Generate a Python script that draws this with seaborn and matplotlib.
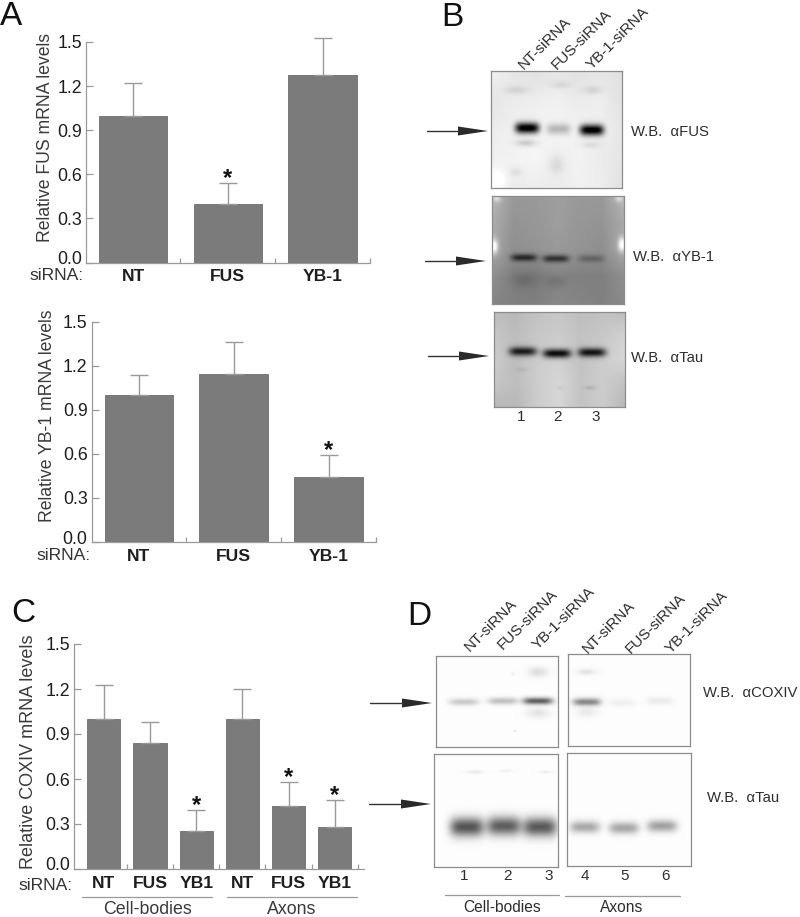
import numpy as np
import pandas as pd
import matplotlib
matplotlib.use('Agg')
import matplotlib.pyplot as plt
from matplotlib.patches import Polygon
from matplotlib.transforms import ScaledTranslation
import seaborn as sns

# bar data
sirna_fus = ['NT', 'FUS', 'YB-1']
fus_mean = [1.0, 0.40, 1.277]
fus_top = [1.224, 0.544, 1.53]
fus_star = [1]

sirna_yb1 = ['NT', 'FUS', 'YB-1']
yb1_mean = [1.0, 1.147, 0.44]
yb1_top = [1.137, 1.36, 0.595]
yb1_star = [2]

sirna_cox = ['NT', 'FUS', 'YB1', 'NT', 'FUS', 'YB1']
group_cox = ['Cell-bodies', 'Cell-bodies', 'Cell-bodies', 'Axons', 'Axons', 'Axons']
cox_mean = [1.0, 0.838, 0.253, 1.0, 0.422, 0.278]
cox_top = [1.23, 0.982, 0.396, 1.198, 0.578, 0.46]
cox_star = [2, 4, 5]

y_ticks = [0.0, 0.3, 0.6, 0.9, 1.2, 1.5]

# lanes on the blots: band darkness for lanes 1, 2, 3...
lanes_b = ['NT-siRNA', 'FUS-siRNA', 'YB-1-siRNA']
band_fus = [1.0, 0.24, 1.0]
band_yb1 = [0.40, 0.38, 0.16]
band_tau_b = [0.66, 0.78, 0.72]
band_cox = [0.20, 0.24, 0.62, 0.46, 0.05, 0.07]
band_tau_d = [0.66, 0.62, 0.64, 0.33, 0.34, 0.36]

# background greys on a coarse grid (rows top to bottom)
bg_fus = [[0.95, 0.90, 0.88, 0.90, 0.88, 0.90, 0.88],
          [0.90, 0.92, 0.93, 0.94, 0.92, 0.93, 0.88],
          [0.92, 0.94, 0.96, 0.96, 0.95, 0.94, 0.90],
          [0.94, 0.95, 0.96, 0.93, 0.95, 0.92, 0.90],
          [1.00, 0.92, 0.93, 0.92, 0.94, 0.93, 0.88]]
bg_yb1 = [[0.72, 0.60, 0.60, 0.62, 0.60, 0.60, 0.72],
          [0.68, 0.58, 0.59, 0.62, 0.59, 0.58, 0.66],
          [0.66, 0.56, 0.58, 0.60, 0.58, 0.56, 0.66],
          [0.56, 0.50, 0.48, 0.52, 0.50, 0.50, 0.56],
          [0.52, 0.50, 0.50, 0.53, 0.52, 0.50, 0.54]]
bg_tau = [[0.74, 0.72, 0.76, 0.78, 0.74, 0.76, 0.74],
          [0.78, 0.74, 0.78, 0.80, 0.76, 0.78, 0.82],
          [0.80, 0.74, 0.80, 0.82, 0.76, 0.80, 0.84],
          [0.78, 0.74, 0.80, 0.84, 0.77, 0.80, 0.76],
          [0.72, 0.72, 0.80, 0.84, 0.76, 0.80, 0.72]]
bg_white = [[0.99, 0.99], [0.99, 0.99]]

W, H = 800, 917
BAR = '#7b7b7b'
AXIS = '#9a9a9a'
TEXT = '#2e2e2e'

sns.set_theme(style='white')
plt.rcParams['font.family'] = ['Liberation Sans', 'DejaVu Sans']

fig = plt.figure(figsize=(W / 100, H / 100), dpi=100, facecolor='white')


def px_axes(x0, y0, x1, y1):
    return fig.add_axes([x0 / W, 1 - y1 / H, (x1 - x0) / W, (y1 - y0) / H])


def bar_panel(box, names, groups, mean, top, stars, ylabel, label_xy, label_size):
    ax = px_axes(*box)
    df = pd.DataFrame({'key': [g + str(i) for i, g in enumerate(groups)], 'mean': mean})
    sns.barplot(data=df, x='key', y='mean', color=BAR, saturation=1, width=0.72,
                edgecolor='#6e6e6e', linewidth=0.6, ax=ax)
    pos = np.arange(len(mean))
    ax.errorbar(pos, mean, yerr=[np.zeros(len(mean)), np.array(top) - np.array(mean)],
                fmt='none', ecolor=AXIS, elinewidth=1.0, capsize=6.6, capthick=1.0,
                clip_on=False, zorder=1)
    ax.set_ylim(0, 1.5)
    ax.set_yticks(y_ticks, ['%.1f' % t for t in y_ticks], fontsize=12.8, color='#1e1e1e')
    ax.set_xticks(pos, names, fontsize=12.6, fontweight='bold', color='#1e1e1e')
    ax.set_xticks(pos + 0.5, minor=True)
    ax.tick_params(axis='y', direction='in', length=5, width=0.9, color=AXIS, pad=3, left=True)
    ax.tick_params(axis='x', which='major', length=0, pad=5)
    ax.tick_params(axis='x', which='minor', direction='in', length=3.5, width=0.9, color=AXIS, bottom=True)
    # the 0.0 label sits a little above its tick in the original
    lab0 = ax.get_yticklabels()[0]
    lab0.set_transform(lab0.get_transform() + ScaledTranslation(0, 5 / 100, fig.dpi_scale_trans))
    sns.despine(ax=ax)
    for s in ['left', 'bottom']:
        ax.spines[s].set_color(AXIS)
        ax.spines[s].set_linewidth(0.9)
    ax.set_xlabel('')
    ax.set_ylabel(ylabel, fontsize=label_size, color='#3a3a3a', va='center')
    ax.yaxis.set_label_coords(*label_xy)
    for i in stars:
        ax.annotate('*', (i, top[i]), xytext=(0, -1.5), textcoords='offset points',
                    ha='center', va='baseline', fontsize=17, fontweight='bold',
                    color='#111111', annotation_clip=False)
    return ax


bar_panel((86, 42, 370, 262.5), sirna_fus, sirna_fus, fus_mean, fus_top, fus_star,
          'Relative FUS mRNA levels', (-0.144, 0.566), 12.7)
bar_panel((91.7, 321.7, 376, 542), sirna_yb1, sirna_yb1, yb1_mean, yb1_top, yb1_star,
          'Relative YB-1 mRNA levels', (-0.157, 0.572), 12.7)
bar_panel((74, 644, 364.5, 869), sirna_cox, [g + s for g, s in zip(group_cox, sirna_cox)],
          cox_mean, cox_top, cox_star, 'Relative COXIV mRNA levels', (-0.158, 0.52), 13)


def blot(box, bg, lane_x, lane_y, dark, half_w, half_h, extra=()):
    # image in figure pixels, bands as soft blobs over a smooth background
    x0, y0, x1, y1 = box
    ax = px_axes(x0, y0, x1, y1)
    xs = np.arange(x0, x1) + 0.5
    ys = np.arange(y0, y1) + 0.5
    gx, gy = np.meshgrid(xs, ys)
    bg = np.array(bg, dtype=float)
    cx = np.linspace(x0, x1, bg.shape[1])
    cy = np.linspace(y0, y1, bg.shape[0])
    rows = np.array([np.interp(xs, cx, r) for r in bg])
    img = np.array([np.interp(ys, cy, c) for c in rows.T]).T
    for x, y, d in zip(lane_x, lane_y, dark):
        img = img - d * np.exp(-((gx - x) / half_w) ** 4) * np.exp(-((gy - y) / half_h) ** 2)
    for x, y, d, w, h in extra:
        img = img - d * np.exp(-((gx - x) / w) ** 2) * np.exp(-((gy - y) / h) ** 2)
    ax.imshow(np.clip(img, 0, 1), cmap='gray', vmin=0, vmax=1, aspect='auto', interpolation='bilinear')
    ax.set_xticks([])
    ax.set_yticks([])
    for s in ax.spines.values():
        s.set_visible(True)
        s.set_color('#8c8c8c')
        s.set_linewidth(0.9)
    return ax


# panel B
blot((491, 71, 622, 188), bg_fus, [527, 558, 591], [128, 129, 130], band_fus, 12, 5.5,
     [(526, 143, 0.16, 10, 3.5), (590, 145, 0.08, 10, 3), (516, 90, 0.09, 12, 4), (560, 85, 0.07, 10, 4),
      (592, 90, 0.09, 9, 4), (556, 165, 0.08, 7, 8), (516, 172, 0.07, 6, 4), (497, 180, -0.08, 8, 8)])
blot((492, 196, 624, 304), bg_yb1, [524, 556, 591], [258, 259, 259], band_yb1, 13, 3.6,
     [(524, 280, 0.07, 12, 8), (556, 282, 0.06, 10, 6), (494, 247, -0.4, 4, 7), (622, 245, -0.4, 4, 7),
      (497, 199, -0.18, 4, 4), (619, 199, -0.18, 4, 4)])
blot((494, 312, 625, 407), bg_tau, [523, 557, 592], [352, 354, 353], band_tau_b, 14, 4.4,
     [(522, 370, 0.05, 6, 2), (590, 388, 0.09, 6, 2), (560, 388, 0.05, 3, 2)])

# panel D
blot((436, 656, 558, 747), bg_white, [464, 503, 538], [702, 701, 701], band_cox[:3], 15, 3.5,
     [(538, 672, 0.12, 10, 5), (538, 713, 0.10, 11, 5), (513, 674, 0.05, 2, 2), (515, 731, 0.12, 1.2, 1.2)])
blot((568, 654, 690, 746), bg_white, [587, 622, 660], [702, 703, 701], band_cox[3:], 14, 3.8,
     [(587, 672, 0.10, 9, 3), (587, 712, 0.08, 10, 5)])
blot((434, 754, 558, 867), bg_white, [467, 504, 540], [827, 826, 827], band_tau_d[:3], 17, 9.5,
     [(475, 772, 0.07, 9, 2), (506, 771, 0.05, 7, 1.5), (545, 772, 0.06, 7, 1.5)])
blot((567, 753, 691, 866), bg_white, [585, 624, 662], [827, 828, 826], band_tau_d[3:], 15, 6)

# everything else sits on a full figure layer in pixel units
top = fig.add_axes([0, 0, 1, 1], facecolor='none')
top.set_xlim(0, W)
top.set_ylim(H, 0)
top.axis('off')

for s, x, y in [('siRNA:', 84, 275), ('siRNA:', 90.7, 555), ('siRNA:', 72.7, 885)]:
    top.text(x, y, s, ha='right', va='center', fontsize=12.6, color='#333333')

for s, x, y in [('A', 0, 25), ('B', 441, 26), ('C', 11, 622), ('D', 407, 625)]:
    top.text(x, y, s, ha='left', va='baseline', fontsize=24, color='#111111')

top.plot([82, 212], [897, 897], color=AXIS, lw=0.9)
top.plot([227, 357], [897, 897], color=AXIS, lw=0.9)
top.text(147, 910, 'Cell-bodies', ha='center', va='center', fontsize=12.8, color='#3a3a3a')
top.text(292, 910, 'Axons', ha='center', va='center', fontsize=12.8, color='#3a3a3a')

# arrows beside the blots
for x0, x1, y in [(427, 488, 131), (425, 486, 261), (428, 489, 356), (370, 432, 703), (369, 431, 804)]:
    top.plot([x0, x1 - 28], [y, y], color='#333333', lw=1.0)
    top.add_patch(Polygon([(x1 - 30, y - 4.5), (x1, y), (x1 - 30, y + 4.5)], closed=True,
                          facecolor='#2a2a2a', edgecolor='none'))

for s, x, y in [('W.B.  αFUS', 631, 132), ('W.B.  αYB-1', 633, 257), ('W.B.  αTau', 631, 358),
                ('W.B.  αCOXIV', 703, 693), ('W.B.  αTau', 707, 798)]:
    top.text(x, y, s, ha='left', va='center', fontsize=10.7, color=TEXT)

for s, x in zip(lanes_b, [524, 557, 592]):
    top.text(x, 70, s, rotation=45, rotation_mode='anchor', ha='left', va='baseline',
             fontsize=11, color=TEXT)
for s, x, y in zip(lanes_b * 2, [470, 503, 538, 588, 631, 671], [652, 650, 650, 654, 654, 654]):
    top.text(x, y, s, rotation=45, rotation_mode='anchor', ha='left', va='baseline',
             fontsize=11, color=TEXT)

for s, x in zip('123', [521, 558, 596]):
    top.text(x, 417, s, ha='center', va='center', fontsize=11, color=TEXT)
for s, x in zip('123456', [464, 508, 549, 585, 625, 666]):
    top.text(x, 876, s, ha='center', va='center', fontsize=11, color=TEXT)

top.plot([445, 559], [895, 895], color=AXIS, lw=0.9)
top.plot([565, 680], [896, 896], color=AXIS, lw=0.9)
top.text(502, 907, 'Cell-bodies', ha='center', va='center', fontsize=11.2, color=TEXT)
top.text(622, 908, 'Axons', ha='center', va='center', fontsize=11.2, color=TEXT)

fig.savefig('out.png', dpi=100)
